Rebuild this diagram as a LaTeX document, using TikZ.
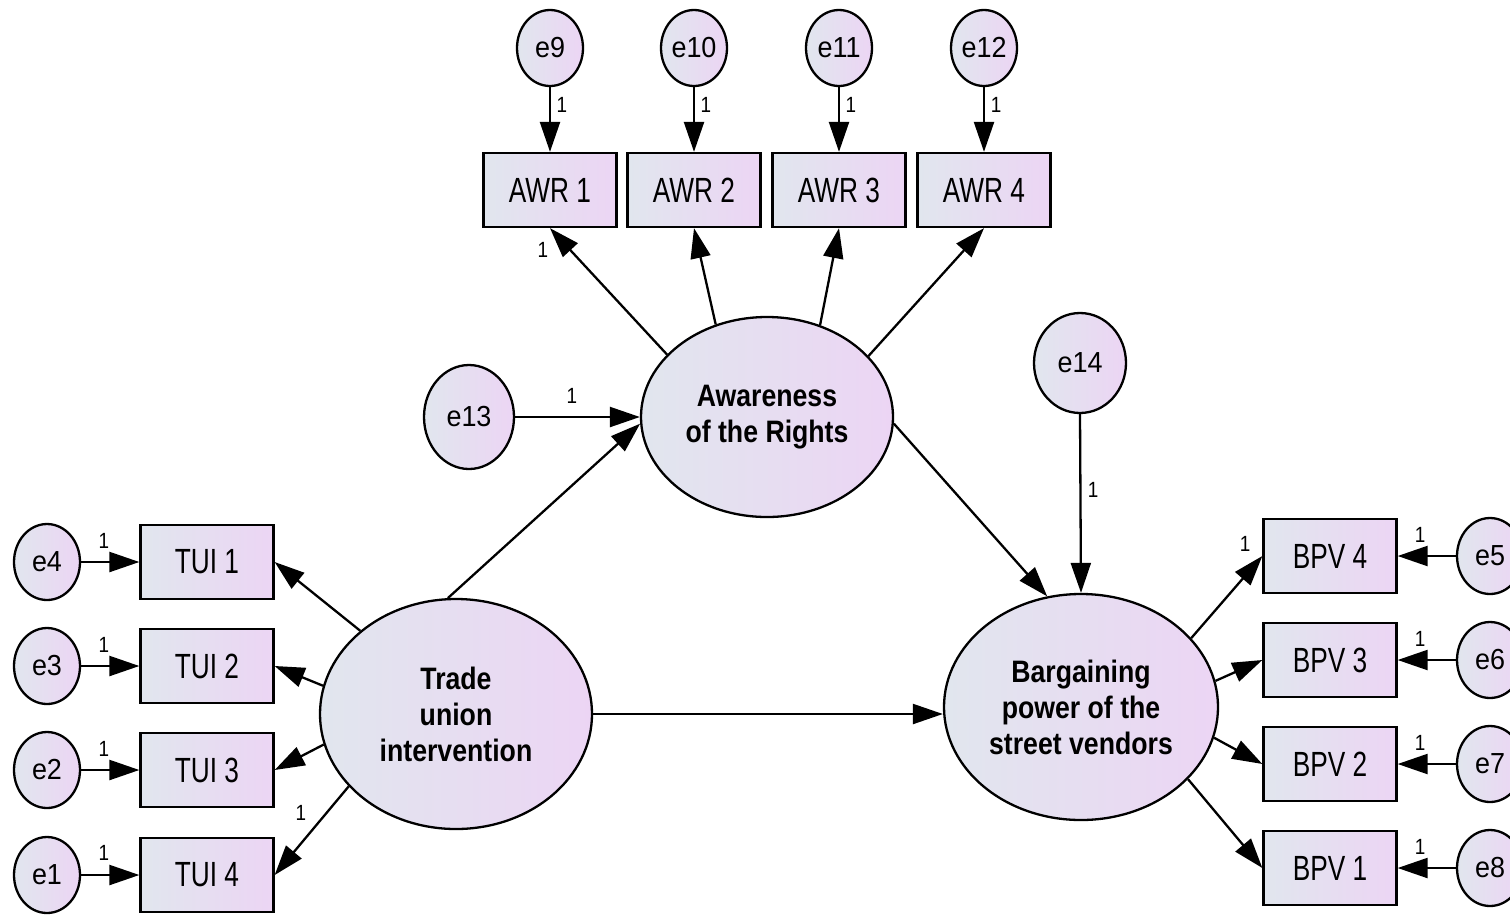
\documentclass[tikz,border=0pt]{standalone}
\usepackage{fontspec}
\setmainfont{Liberation Sans}[FakeStretch=0.86]
\newfontfamily\obsfont{Liberation Sans}[FakeStretch=0.75]
\newfontfamily\errfont{Liberation Sans}[FakeStretch=0.93]
\usetikzlibrary{shapes.geometric,arrows.meta}
\definecolor{gL}{RGB}{225,230,238}
\definecolor{gR}{RGB}{236,213,244}
\begin{document}
\begin{tikzpicture}[x=1pt,y=-1pt,line width=2.3pt,
  fillg/.style={left color=gL,right color=gR},
  obs/.style={draw,rectangle,fillg,minimum width=133pt,minimum height=74pt,inner sep=0pt,font=\obsfont\fontsize{35}{40}\selectfont},
  err/.style={draw,ellipse,fillg,minimum width=66pt,minimum height=76pt,inner sep=0pt,font=\errfont\fontsize{29}{34}\selectfont},
  lat/.style={draw,ellipse,fillg,inner sep=0pt,align=center,font=\bfseries\fontsize{31}{36}\selectfont},
  lab/.style={inner sep=0pt,font=\fontsize{22}{22}\selectfont},
  arr/.style={-{Triangle[length=30pt,width=20pt]}}]
\useasboundingbox[fill=white] (0,0) rectangle (1510,914);

% observed AWR
\node[obs] (awr1) at (550,190) {AWR 1};
\node[obs] (awr2) at (694,190) {AWR 2};
\node[obs] (awr3) at (839,190) {AWR 3};
\node[obs] (awr4) at (984,190) {AWR 4};
\node[err] (e9)  at (550,48) {e9};
\node[err] (e10) at (694,48) {e10};
\node[err] (e11) at (839,48) {e11};
\node[err] (e12) at (984,48) {e12};

% TUI
\node[obs] (tui1) at (207,562) {TUI 1};
\node[obs] (tui2) at (207,666) {TUI 2};
\node[obs] (tui3) at (207,770) {TUI 3};
\node[obs] (tui4) at (207,875) {TUI 4};
\node[err] (e4) at (47,562) {e4};
\node[err] (e3) at (47,666) {e3};
\node[err] (e2) at (47,770) {e2};
\node[err] (e1) at (47,875) {e1};

% BPV
\node[obs] (bpv4) at (1330,556) {BPV 4};
\node[obs] (bpv3) at (1330,660) {BPV 3};
\node[obs] (bpv2) at (1330,764) {BPV 2};
\node[obs] (bpv1) at (1330,868) {BPV 1};
\node[err] (e5) at (1490,556) {e5};
\node[err] (e6) at (1490,660) {e6};
\node[err] (e7) at (1490,764) {e7};
\node[err] (e8) at (1490,868) {e8};

% latent
\node[lat,minimum width=252pt,minimum height=200pt] (aw) at (767,417) {Awareness\\of the Rights};
\node[lat,minimum width=272pt,minimum height=230pt] (tui) at (456,714) {Trade\\union\\intervention};
\node[lat,minimum width=274pt,minimum height=226pt] (bpv) at (1081,707) {Bargaining\\power of the\\street vendors};
\node[err,minimum width=90pt,minimum height=104pt] (e13) at (469,417) {e13};
\node[err,minimum width=92pt,minimum height=100pt] (e14) at (1080,363) {e14};

% connectors
\foreach \e/\o in {e9/awr1,e10/awr2,e11/awr3,e12/awr4}
  \draw[arr] (\e.south) -- (\o.north);
\foreach \a/\o in {148/awr1,119/awr2,60/awr3,31/awr4}
  \draw[arr] (aw.\a) -- (\o.south);
\foreach \e/\o in {e4/tui1,e3/tui2,e2/tui3,e1/tui4}
  \draw[arr] (\e.east) -- (\o.west);
\foreach \a/\o in {139/tui1,168/tui2,193/tui3,214/tui4}
  \draw[arr] (tui.\a) -- (\o.east);
\foreach \e/\o in {e5/bpv4,e6/bpv3,e7/bpv2,e8/bpv1}
  \draw[arr] (\e.west) -- (\o.east);
\foreach \a/\o in {32/bpv4,11/bpv3,-13/bpv2,-34/bpv1}
  \draw[arr] (bpv.\a) -- (\o.west);
\draw[arr] (e13.east) -- (aw.west);
\draw[arr] (tui.94) -- (aw.183);
\draw[arr] (aw.357) -- (bpv.107);
\draw[arr] (e14.south) -- (bpv.north);
\draw[arr] (tui.east) -- (bpv.west |- tui.east);

% labels
\node[lab] (l9)  at (562,105) {1};
\node[lab] (l10) at (706,105) {1};
\node[lab] (l11) at (851,105) {1};
\node[lab] (l12) at (996,105) {1};
\node[lab] (la1) at (543,250) {1};
\node[lab] (l13) at (572,396) {1};
\node[lab] (l14) at (1093,490) {1};
\node[lab] (l4) at (104,541) {1};
\node[lab] (l3) at (104,645) {1};
\node[lab] (l2) at (104,749) {1};
\node[lab] (l1) at (104,853) {1};
\node[lab] (lt4) at (301,813) {1};
\node[lab] (lb4) at (1245,544) {1};
\node[lab] (l5) at (1420,535) {1};
\node[lab] (l6) at (1420,639) {1};
\node[lab] (l7) at (1420,743) {1};
\node[lab] (l8) at (1420,847) {1};
\end{tikzpicture}
\end{document}
